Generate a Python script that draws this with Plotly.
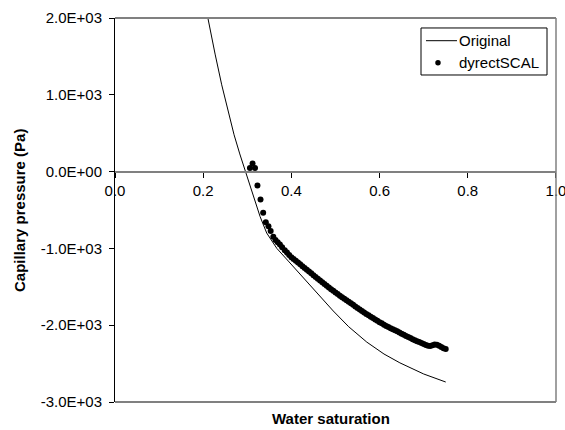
import plotly.graph_objects as go

# Original curve (water saturation, capillary pressure in Pa)
orig_sw = [0.204, 0.2105, 0.227, 0.242, 0.258, 0.270, 0.283, 0.296, 0.306, 0.318, 0.329,
           0.344, 0.367, 0.393, 0.420, 0.442, 0.470, 0.495, 0.530, 0.571, 0.610, 0.646,
           0.700, 0.750]
orig_pc = [2190, 2000, 1530, 1130, 750, 480, 230, 0, -185, -400, -585,
           -800, -1000, -1165, -1335, -1480, -1660, -1815, -2020, -2220, -2375, -2490,
           -2635, -2740]

# dyrectSCAL points
dy_sw = [0.306, 0.312, 0.3175, 0.323, 0.330, 0.336, 0.342, 0.348, 0.353, 0.359, 0.364, 0.369,
         0.374, 0.379, 0.385, 0.390, 0.395,
         0.400, 0.405, 0.410, 0.415, 0.420, 0.425, 0.430, 0.435, 0.440, 0.445, 0.450, 0.455,
         0.460, 0.465, 0.470, 0.475, 0.480, 0.485, 0.490, 0.495, 0.500, 0.505, 0.510, 0.515,
         0.520, 0.525, 0.530, 0.535, 0.540, 0.545, 0.550, 0.555, 0.560, 0.565, 0.570, 0.575,
         0.580, 0.585, 0.590, 0.595, 0.600, 0.605, 0.610, 0.615, 0.620, 0.625, 0.630, 0.635,
         0.640, 0.645, 0.650, 0.655, 0.660, 0.665, 0.670, 0.675, 0.680, 0.685, 0.690, 0.695,
         0.700, 0.705, 0.710, 0.715, 0.720, 0.725, 0.730, 0.735, 0.740, 0.745, 0.750]
dy_pc = [48, 104, 48, -182, -364, -537, -658, -710, -775, -848, -890, -920,
         -948, -985, -1025, -1055, -1085,
         -1115, -1138, -1162, -1185, -1208, -1232, -1255, -1279, -1302, -1325, -1348, -1372,
         -1395, -1418, -1441, -1464, -1487, -1509, -1531, -1553, -1575, -1595, -1615, -1635,
         -1655, -1675, -1695, -1715, -1735, -1755, -1775, -1795, -1815, -1834, -1853, -1871,
         -1890, -1907, -1925, -1942, -1960, -1976, -1993, -2009, -2025, -2039, -2053, -2067,
         -2080, -2095, -2110, -2125, -2140, -2154, -2168, -2182, -2195, -2208, -2220, -2233,
         -2245, -2257, -2268, -2272, -2262, -2250, -2256, -2268, -2285, -2299, -2310]

y_tickvals = [2000, 1000, 0, -1000, -2000, -3000]
y_ticktext = ["2.0E+03", "1.0E+03", "0.0E+00", "-1.0E+03", "-2.0E+03", "-3.0E+03"]
x_tickvals = [0.0, 0.2, 0.4, 0.6, 0.8, 1.0]
x_ticktext = ["0.0", "0.2", "0.4", "0.6", "0.8", "1.0"]
series_names = ["Original", "dyrectSCAL"]

FONT = "Liberation Sans, Arial, sans-serif"

fig = go.Figure()
fig.add_trace(go.Scatter(x=orig_sw, y=orig_pc, mode="lines", name=series_names[0],
                         line=dict(color="black", width=1), showlegend=False))
fig.add_trace(go.Scatter(x=dy_sw, y=dy_pc, mode="markers", name=series_names[1],
                         marker=dict(color="black", size=6), showlegend=False))

# legend box drawn in paper coordinates
LX0, LX1, LY0, LY1 = 0.6939, 0.9796, 0.8516, 0.9740
row1, row2 = 0.9409, 0.8836
legend_shapes = [
    dict(type="rect", xref="paper", yref="paper", x0=LX0, x1=LX1, y0=LY0, y1=LY1,
         line=dict(color="black", width=1), fillcolor="white", layer="above"),
    dict(type="line", xref="paper", yref="paper", x0=0.7052, x1=0.7755, y0=row1, y1=row1,
         line=dict(color="black", width=1), layer="above"),
    dict(type="circle", xref="paper", yref="paper", x0=0.7324 - 0.0062, x1=0.7324 + 0.0062,
         y0=row2 - 0.0071, y1=row2 + 0.0071, fillcolor="black",
         line=dict(color="black", width=0), layer="above"),
]
legend_texts = [
    dict(text=series_names[0], xref="paper", yref="paper", x=0.7765, y=row1,
         xanchor="left", yanchor="middle", showarrow=False, font=dict(size=15)),
    dict(text=series_names[1], xref="paper", yref="paper", x=0.7765, y=row2,
         xanchor="left", yanchor="middle", showarrow=False, font=dict(size=15)),
]

fig.update_layout(
    width=565, height=430,
    margin=dict(l=115, r=9, t=18, b=28),
    paper_bgcolor="white", plot_bgcolor="white",
    font=dict(family=FONT, size=15, color="black"),
    showlegend=False,
    xaxis=dict(range=[0, 1.0001], tickvals=x_tickvals, ticktext=x_ticktext,
               anchor="free", position=0.6, showline=True, linecolor="#808080",
               linewidth=2, ticks="outside", ticklen=5, tickcolor="black",
               showgrid=False, zeroline=False, tickfont=dict(size=15),
               automargin=False, ticklabeloverflow="allow"),
    yaxis=dict(range=[-3000, 2000], tickvals=y_tickvals, ticktext=y_ticktext,
               showline=True, linecolor="black", linewidth=1, ticks="outside",
               ticklen=5, tickcolor="black", showgrid=False, zeroline=False,
               tickfont=dict(size=15), ticklabelstandoff=4, automargin=False,
               ticklabeloverflow="allow"),
    shapes=[
        dict(type="line", xref="paper", yref="paper", x0=0, x1=1, y0=1, y1=1,
             line=dict(color="#808080", width=2)),
        dict(type="line", xref="paper", yref="paper", x0=1, x1=1, y0=0, y1=1,
             line=dict(color="#808080", width=1.5)),
        dict(type="line", xref="paper", yref="paper", x0=0, x1=1, y0=0, y1=0,
             line=dict(color="#808080", width=2)),
    ] + legend_shapes,
    annotations=[
        dict(text="<b>Water saturation</b>", xref="paper", yref="paper",
             x=0.4887, y=-0.044, xanchor="center", yanchor="middle", showarrow=False,
             font=dict(size=15)),
        dict(text="<b>Capillary pressure (Pa)</b>", xref="paper", yref="paper",
             x=-0.2177, y=0.5, xanchor="center", yanchor="middle", textangle=-90,
             showarrow=False, font=dict(size=15)),
    ] + legend_texts,
)

# remove the default page margin and scrollbars so the 565x430 figure fills the window
fig.write_html(
    "out.html",
    config={"displayModeBar": False},
    post_script=("document.documentElement.style.overflow='hidden';"
                 "document.body.style.overflow='hidden';"
                 "document.body.style.margin='0';"),
)
